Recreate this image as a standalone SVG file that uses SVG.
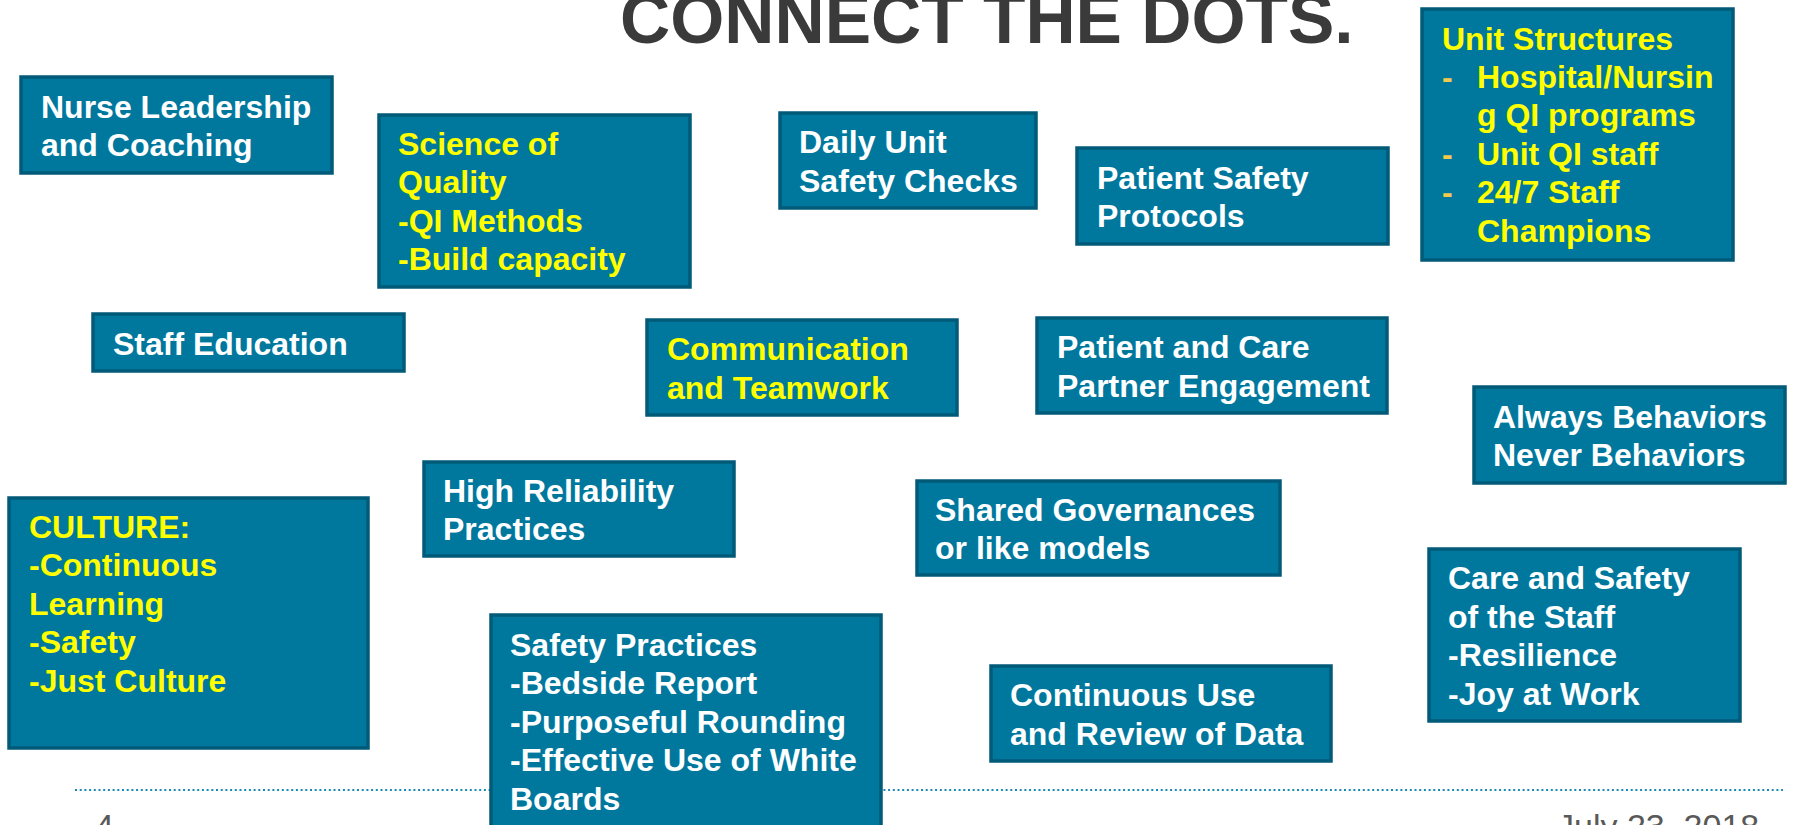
<svg xmlns="http://www.w3.org/2000/svg" width="1793" height="825" viewBox="0 0 1793 825">
<style>
.box{fill:#00789E;stroke:#005A78;stroke-width:3.5}
.t{font-family:"Liberation Sans",Arial,sans-serif;font-weight:bold;font-size:32px;fill:#FFFFFF}
.y{fill:#FFFF00}
.dash{fill:#F2C94C}
.title{font-family:"Liberation Sans",Arial,sans-serif;font-weight:bold;font-size:69.5px;fill:#3A3A3A}
.foot{font-family:"Liberation Sans",Arial,sans-serif;font-size:34px;fill:#595959}
</style>
<rect width="1793" height="825" fill="#FFFFFF"/>
<text class="title" x="620" y="43">CONNECT THE DOTS.</text>
<g id="connectors">
<line x1="75" y1="790" x2="1783" y2="790" stroke="#1A8AB0" stroke-width="2.2" stroke-dasharray="2 2.7"/>
</g>
<g id="nurse-leadership">
<rect class="box" x="21" y="77" width="311" height="96"/>
<text class="t" x="41" y="118">Nurse Leadership</text>
<text class="t" x="41" y="156.4">and Coaching</text>
</g>
<g id="science-of-quality">
<rect class="box" x="379" y="115" width="311" height="172"/>
<text class="t y" x="398" y="155">Science of</text>
<text class="t y" x="398" y="193.4">Quality</text>
<text class="t y" x="398" y="231.8">-QI Methods</text>
<text class="t y" x="398" y="270.2">-Build capacity</text>
</g>
<g id="daily-unit-safety-checks">
<rect class="box" x="780" y="113" width="256" height="95"/>
<text class="t" x="799" y="153.3">Daily Unit</text>
<text class="t" x="799" y="191.7">Safety Checks</text>
</g>
<g id="patient-safety-protocols">
<rect class="box" x="1077" y="148" width="311" height="96"/>
<text class="t" x="1097" y="188.8">Patient Safety</text>
<text class="t" x="1097" y="227.2">Protocols</text>
</g>
<g id="unit-structures">
<rect class="box" x="1422" y="9" width="311" height="251"/>
<text class="t y" x="1442" y="49.5">Unit Structures</text>
<text class="t dash" x="1442" y="87.9">-</text>
<text class="t y" x="1477" y="87.9">Hospital/Nursin</text>
<text class="t y" x="1477" y="126.3">g QI programs</text>
<text class="t dash" x="1442" y="164.7">-</text>
<text class="t y" x="1477" y="164.7">Unit QI staff</text>
<text class="t dash" x="1442" y="203.1">-</text>
<text class="t y" x="1477" y="203.1">24/7 Staff</text>
<text class="t y" x="1477" y="241.5">Champions</text>
</g>
<g id="staff-education">
<rect class="box" x="93" y="314" width="311" height="57"/>
<text class="t" x="113" y="354.5">Staff Education</text>
</g>
<g id="communication-teamwork">
<rect class="box" x="647" y="320" width="310" height="95"/>
<text class="t y" x="667" y="360.3">Communication</text>
<text class="t y" x="667" y="398.7">and Teamwork</text>
</g>
<g id="patient-care-partner">
<rect class="box" x="1037" y="318" width="350" height="95"/>
<text class="t" x="1057" y="358.3">Patient and Care</text>
<text class="t" x="1057" y="396.7">Partner Engagement</text>
</g>
<g id="always-never">
<rect class="box" x="1474" y="387" width="311" height="96"/>
<text class="t" x="1493" y="427.8">Always Behaviors</text>
<text class="t" x="1493" y="466.2">Never Behaviors</text>
</g>
<g id="high-reliability">
<rect class="box" x="424" y="462" width="310" height="94"/>
<text class="t" x="443" y="501.8">High Reliability</text>
<text class="t" x="443" y="540.2">Practices</text>
</g>
<g id="culture">
<rect class="box" x="9" y="498" width="359" height="250"/>
<text class="t y" x="29" y="538">CULTURE:</text>
<text class="t y" x="29" y="576.4">-Continuous</text>
<text class="t y" x="29" y="614.8">Learning</text>
<text class="t y" x="29" y="653.2">-Safety</text>
<text class="t y" x="29" y="691.6">-Just Culture</text>
</g>
<g id="shared-governances">
<rect class="box" x="917" y="481" width="363" height="94"/>
<text class="t" x="935" y="520.8">Shared Governances</text>
<text class="t" x="935" y="559.2">or like models</text>
</g>
<g id="care-safety-staff">
<rect class="box" x="1429" y="549" width="311" height="172"/>
<text class="t" x="1448" y="589.4">Care and Safety</text>
<text class="t" x="1448" y="627.8">of the Staff</text>
<text class="t" x="1448" y="666.2">-Resilience</text>
<text class="t" x="1448" y="704.6">-Joy at Work</text>
</g>
<g id="safety-practices">
<rect class="box" x="491" y="615" width="390" height="230"/>
<text class="t" x="510" y="656">Safety Practices</text>
<text class="t" x="510" y="694.4">-Bedside Report</text>
<text class="t" x="510" y="732.8">-Purposeful Rounding</text>
<text class="t" x="510" y="771.2">-Effective Use of White</text>
<text class="t" x="510" y="809.6">Boards</text>
</g>
<g id="continuous-use-data">
<rect class="box" x="991" y="666" width="340" height="95"/>
<text class="t" x="1010" y="706.3">Continuous Use</text>
<text class="t" x="1010" y="744.7">and Review of Data</text>
</g>
<text class="foot" x="95" y="838">4</text>
<text class="foot" x="1557" y="838">July 23, 2018</text>
</svg>
